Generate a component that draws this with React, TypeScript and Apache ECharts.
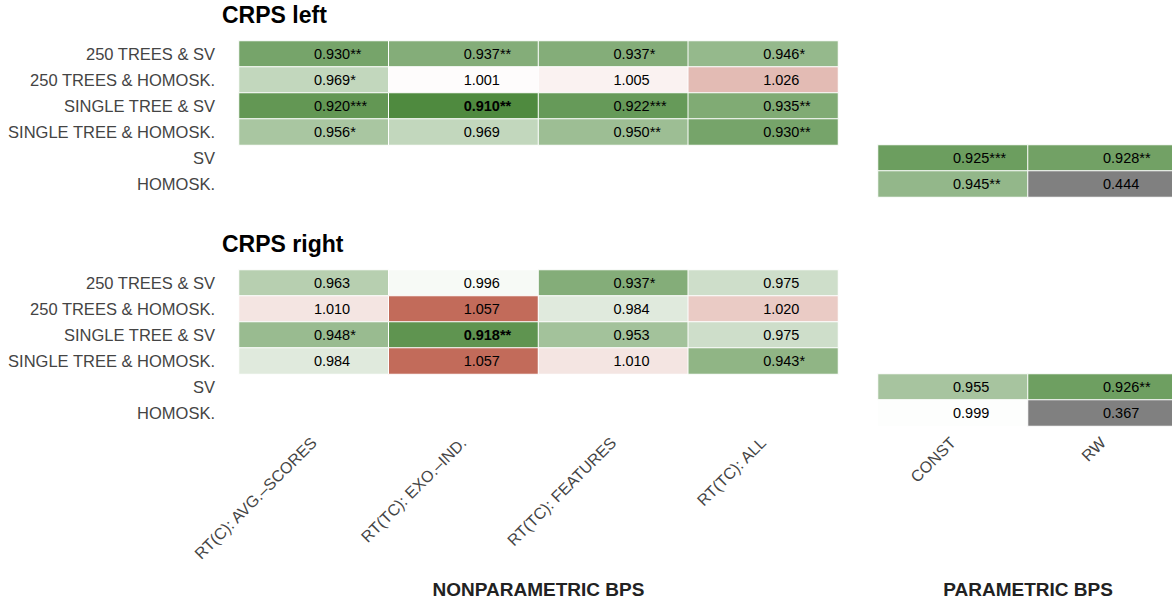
import React, { useEffect, useRef } from 'react';
import * as echarts from 'echarts';

const rowLabels = [
  '250 TREES & SV',
  '250 TREES & HOMOSK.',
  'SINGLE TREE & SV',
  'SINGLE TREE & HOMOSK.',
  'SV',
  'HOMOSK.',
];
const nonparamCols = ['RT(C): AVG.–SCORES', 'RT(TC): EXO.–IND.', 'RT(TC): FEATURES', 'RT(TC): ALL'];
const paramCols = ['CONST', 'RW'];
const panelTitles = ['CRPS left', 'CRPS right'];

// rows 0..3 of nonparametric block
const leftNonparamValues = [
  [0.930, 0.937, 0.937, 0.946],
  [0.969, 1.001, 1.005, 1.026],
  [0.920, 0.910, 0.922, 0.935],
  [0.956, 0.969, 0.950, 0.930],
];
const leftNonparamStars = [
  ['**', '**', '*', '*'],
  ['*', '', '', ''],
  ['***', '**', '***', '**'],
  ['*', '', '**', '**'],
];
// rows 4..5 (SV, HOMOSK.) of parametric block
const leftParamValues = [
  [0.925, 0.928],
  [0.945, 0.444],
];
const leftParamStars = [
  ['***', '**'],
  ['**', ''],
];

const rightNonparamValues = [
  [0.963, 0.996, 0.937, 0.975],
  [1.010, 1.057, 0.984, 1.020],
  [0.948, 0.918, 0.953, 0.975],
  [0.984, 1.057, 1.010, 0.943],
];
const rightNonparamStars = [
  ['', '', '*', ''],
  ['', '', '', ''],
  ['*', '**', '', ''],
  ['', '', '', '*'],
];
const rightParamValues = [
  [0.955, 0.926],
  [0.999, 0.367],
];
const rightParamStars = [
  ['', '**'],
  ['', ''],
];

const GREEN = '#4f8a3f';
const RED = '#c26b5a';
const GRAY = '#808080';

function cellColor(v: number): string {
  if (v <= 1) {
    const t = Math.min(1, (1 - v) / (1 - 0.91));
    return echarts.color.lerp(t, ['#ffffff', GREEN]) as string;
  }
  const t = Math.min(1, (v - 1) / (1.057 - 1));
  return echarts.color.lerp(t, ['#ffffff', RED]) as string;
}

function buildPieces() {
  const pieces: any[] = [{ lt: 0.8995, color: GRAY }];
  for (let k = 900; k <= 1100; k++) {
    pieces.push({ gte: (k - 0.5) / 1000, lt: (k + 0.5) / 1000, color: cellColor(k / 1000) });
  }
  return pieces;
}

function buildData(values: number[][], stars: string[][], rowOffset: number, best: number | null) {
  const out: any[] = [];
  values.forEach((row, r) => {
    row.forEach((v, c) => {
      const item: any = {
        value: [c, r + rowOffset, v],
        stars: stars[r][c],
      };
      if (best !== null && v === best) item.label = { fontWeight: 'bold' };
      out.push(item);
    });
  });
  return out;
}

const FONT = '"Liberation Sans", Arial, Helvetica, sans-serif';

export default function App() {
  const ref = useRef<HTMLDivElement>(null);
  useEffect(() => {
    const chart = echarts.init(ref.current!, null, { renderer: 'svg' });
    const leftBest = Math.min(...leftNonparamValues.flat());
    const rightBest = Math.min(...rightNonparamValues.flat());

    const grids = [
      { left: 239, top: 41, width: 599, height: 156 },
      { left: 878, top: 41, width: 300, height: 156 },
      { left: 239, top: 270, width: 599, height: 156 },
      { left: 878, top: 270, width: 300, height: 156 },
    ].map((g) => ({ ...g, outerBoundsMode: 'none', containLabel: false }));

    const xAxisNames = ['NONPARAMETRIC BPS', 'PARAMETRIC BPS'];
    const xAxis = [0, 1, 2, 3].map((i) => {
      const isBottom = i >= 2;
      const isParam = i % 2 === 1;
      return {
        type: 'category',
        gridIndex: i,
        data: isParam ? paramCols : nonparamCols,
        position: 'bottom',
        axisLine: { show: false },
        axisTick: { show: false },
        splitLine: { show: false },
        axisLabel: {
          show: isBottom,
          rotate: 45,
          interval: 0,
          margin: 14,
          fontSize: 16,
          color: '#444',
          fontFamily: FONT,
        },
        name: isBottom ? xAxisNames[isParam ? 1 : 0] : '',
        nameLocation: 'middle',
        nameGap: 154,
        nameTextStyle: { fontSize: 19, fontWeight: 'bold', color: '#222', fontFamily: FONT },
      };
    });

    const yAxis = [0, 1, 2, 3].map((i) => ({
      type: 'category',
      gridIndex: i,
      data: rowLabels,
      inverse: true,
      axisLine: { show: false },
      axisTick: { show: false },
      splitLine: { show: false },
      axisLabel: {
        show: i % 2 === 0,
        interval: 0,
        margin: 24,
        fontSize: 16.5,
        color: '#444',
        fontFamily: FONT,
      },
    }));

    const labelOpt = {
      show: true,
      align: 'left',
      fontSize: 14.5,
      color: '#000',
      fontFamily: FONT,
      formatter: (p: any) => p.value[2].toFixed(3) + (p.data.stars || ''),
    };

    const mk = (idx: number, data: any[]) => ({
      type: 'heatmap',
      coordinateSystem: 'cartesian2d',
      xAxisIndex: idx,
      yAxisIndex: idx,
      data,
      itemStyle: { borderColor: '#ffffff', borderWidth: 1 },
      label: labelOpt,
      emphasis: { disabled: true },
    });

    chart.setOption({
      animation: false,
      textStyle: { fontFamily: FONT },
      title: panelTitles.map((t, i) => ({
        text: t,
        left: 222,
        top: i === 0 ? 3 : 232,
        padding: 0,
        textStyle: { fontSize: 23, fontWeight: 'bold', color: '#000', fontFamily: FONT },
      })),
      visualMap: {
        type: 'piecewise',
        show: false,
        dimension: 2,
        seriesIndex: [0, 1, 2, 3],
        pieces: buildPieces(),
        outOfRange: { color: GRAY },
      },
      grid: grids,
      xAxis,
      yAxis,
      series: [
        mk(0, buildData(leftNonparamValues, leftNonparamStars, 0, leftBest)),
        mk(1, buildData(leftParamValues, leftParamStars, 4, null)),
        mk(2, buildData(rightNonparamValues, rightNonparamStars, 0, rightBest)),
        mk(3, buildData(rightParamValues, rightParamStars, 4, null)),
      ],
    });
    return () => chart.dispose();
  }, []);
  return (
    <div
      ref={ref}
      style={{ position: 'absolute', left: 0, top: 0, width: 1172, height: 604 }}
    />
  );
}
